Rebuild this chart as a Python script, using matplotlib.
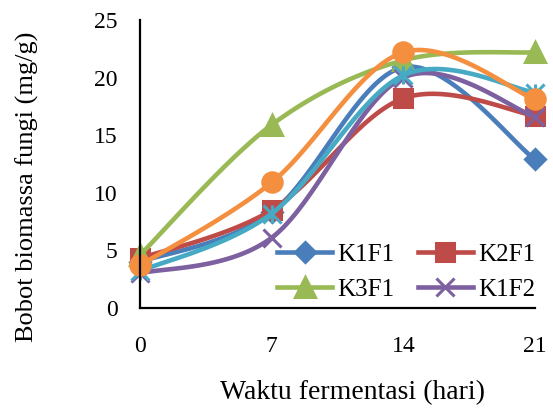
import matplotlib
matplotlib.use('Agg')
import matplotlib.pyplot as plt
import numpy as np
from matplotlib.path import Path

plt.rcParams['font.family'] = ['Liberation Serif', 'DejaVu Serif']

# data
days = [0, 7, 14, 21]
k1f1 = [4.0, 8.3, 20.9, 12.9]
k2f1 = [4.3, 8.5, 18.2, 16.7]
k3f1 = [4.6, 15.9, 21.5, 22.2]
k1f2 = [3.0, 6.1, 20.0, 16.6]
seri5 = [3.2, 8.2, 20.2, 18.7]
seri6 = [3.7, 10.9, 22.2, 18.1]

names = ['K1F1', 'K2F1', 'K3F1', 'K1F2', '_seri5', '_seri6']
colors = ['#4A7EBB', '#BE4B48', '#98B954', '#7D60A0', '#46AAC5', '#F38F3E']

# star marker like excel (x with a vertical bar)
star = Path([(-0.5, -0.5), (0.5, 0.5), (-0.5, 0.5), (0.5, -0.5), (0, -0.5), (0, 0.5)],
            [Path.MOVETO, Path.LINETO, Path.MOVETO, Path.LINETO, Path.MOVETO, Path.LINETO])
markers = ['D', 's', '^', 'x', star, 'o']
msizes = [10, 13, 14, 13, 13, 14]


def smooth(x, y, n=40):
    # bezier smoothing the way excel does it
    x = np.asarray(x, float)
    y = np.asarray(y, float)
    xs, ys = [], []
    for i in range(len(x) - 1):
        i0 = max(i - 1, 0)
        i3 = min(i + 2, len(x) - 1)
        c1x = x[i] + (x[i + 1] - x[i0]) / 6
        c1y = y[i] + (y[i + 1] - y[i0]) / 6
        c2x = x[i + 1] - (x[i3] - x[i]) / 6
        c2y = y[i + 1] - (y[i3] - y[i]) / 6
        t = np.linspace(0, 1, n)
        xs.append((1-t)**3*x[i] + 3*(1-t)**2*t*c1x + 3*(1-t)*t**2*c2x + t**3*x[i+1])
        ys.append((1-t)**3*y[i] + 3*(1-t)**2*t*c1y + 3*(1-t)*t**2*c2y + t**3*y[i+1])
    return np.concatenate(xs), np.concatenate(ys)


fig = plt.figure(figsize=(5.53, 4.09), dpi=100)
ax = fig.add_axes([140/553, 1-308/409, 395/553, 288/409])

series = [k1f1, k2f1, k3f1, k1f2, seri5, seri6]
handles = {}
for vals, nm, c, m, ms in zip(series, names, colors, markers, msizes):
    sx, sy = smooth(days, vals)
    ax.plot(sx, sy, color=c, lw=3.3, solid_capstyle='round', clip_on=False)
    ax.plot(days, vals, ls='none', marker=m, ms=ms, color=c, mec=c,
            mew=2.2, clip_on=False)
    if not nm.startswith('_'):
        h, = ax.plot([], [], color=c, lw=3.3, marker=m, ms=ms, mec=c, mew=2.2, label=nm)
        handles[nm] = h

ax.set_xlim(0, 21)
ax.set_ylim(0, 25)
ax.set_xticks(days)
ax.set_yticks([0, 5, 10, 15, 20, 25])
ax.tick_params(length=0, labelsize=17)
ax.tick_params(axis='y', pad=16)
ax.tick_params(axis='x', pad=20)
for s in ['top', 'right']:
    ax.spines[s].set_visible(False)
for s in ['left', 'bottom']:
    ax.spines[s].set_linewidth(1.6)
    ax.spines[s].set_color('black')

ax.set_xlabel('Waktu fermentasi (hari)', fontsize=20)
ax.set_ylabel('Bobot biomassa fungi (mg/g)', fontsize=19)
ax.xaxis.set_label_coords(0.537, -0.25)
ax.yaxis.set_label_coords(-0.255, 0.42)

# legend is filled row by row in the reference
order = ['K1F1', 'K3F1', 'K2F1', 'K1F2']
ax.legend(handles=[handles[k] for k in order], ncol=2, loc='upper left',
          bbox_to_anchor=(0.347, 0.225), frameon=False, fontsize=18,
          handlelength=2.2, handletextpad=0.2, columnspacing=0.95,
          labelspacing=0.5, borderpad=0, borderaxespad=0)

plt.savefig('out.png', dpi=100)
